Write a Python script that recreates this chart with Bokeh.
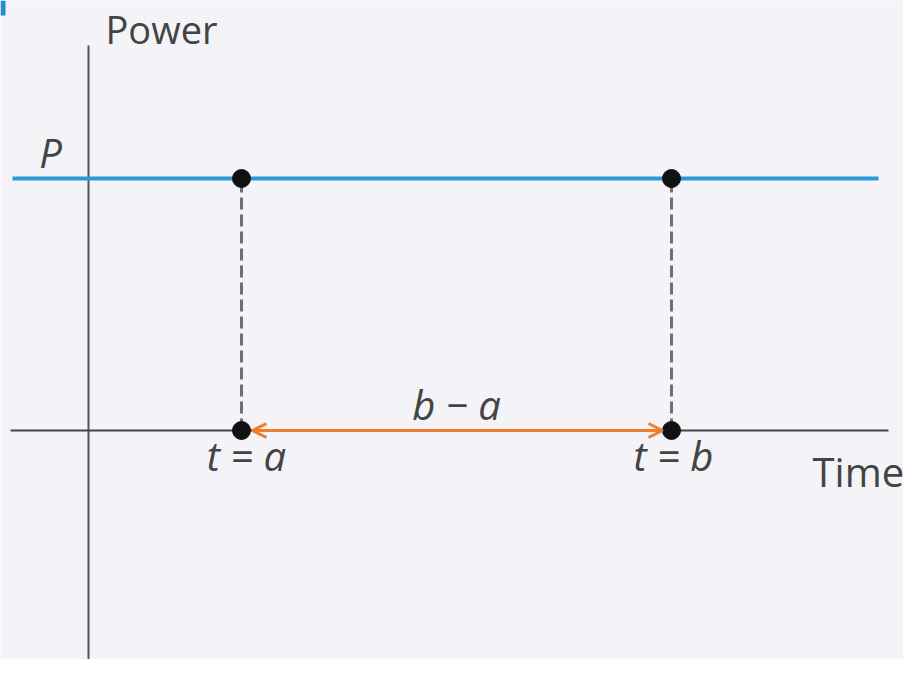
from bokeh.plotting import figure
from bokeh.models import Arrow, OpenHead, Range1d
from bokeh.embed import file_html
from bokeh.resources import INLINE
from bokeh.core.properties import value

# Diagram values (data units)
a = 1.53          # t = a
b = 5.83          # t = b
P = 2.52          # constant power level
time_axis_x = [-0.78, 8.0]
power_axis_y = [-2.40, 3.85]
power_line_x = [-0.76, 7.9]

point_x = [a, a, b, b]
point_y = [P, 0, P, 0]

BG = "#f3f3f8"
TXT = "#444444"
DY = 0.155  # baseline correction

p = figure(width=903, height=659, output_backend="svg", toolbar_location=None,
           x_range=Range1d(-0.88, 8.15), y_range=Range1d(-2.29, 4.30),
           min_border=0)
p.axis.visible = False
p.grid.visible = False
p.outline_line_color = None
p.background_fill_color = BG
p.border_fill_color = BG

# small blue corner mark
p.quad(left=[-0.88], right=[-0.83], bottom=[4.15], top=[4.30],
       fill_color="#1f8fd0", line_color=None)

# axes
p.line([0, 0], power_axis_y, line_color="#555555", line_width=2)
p.line(time_axis_x, [0, 0], line_color="#444444", line_width=2)

# power line
p.line(power_line_x, [P, P], line_color="#2b9bd7", line_width=4)

# dashed verticals
for xv in (a, b):
    p.line([xv, xv], [0, P], line_color="#707070", line_width=3, line_dash="12 5")

# double arrow b - a
p.add_layout(Arrow(x_start=a + 0.11, y_start=0, x_end=b - 0.09, y_end=0,
                   line_color="#ee7d2e", line_width=3,
                   start=OpenHead(size=14, line_color="#ee7d2e", line_width=3),
                   end=OpenHead(size=14, line_color="#ee7d2e", line_width=3)))

# points
p.scatter(point_x, point_y, size=18, fill_color="#111111", line_color="#111111")

font = value("Open Sans")
p.text([0.17], [3.86 + DY], text=["Power"], text_font=font, text_font_size="38px",
       text_color=TXT, text_align="left", text_baseline="alphabetic")
p.text([7.24], [-0.56 + DY], text=["Time"], text_font=font, text_font_size="40px",
       text_color=TXT, text_align="left", text_baseline="alphabetic")
p.text([-0.38], [2.63 + DY], text=["P"], text_font=font, text_font_size="40px",
       text_font_style="italic", text_color=TXT, text_align="center",
       text_baseline="alphabetic")
p.text([a + 0.05, b + 0.02], [-0.40 + DY, -0.40 + DY], text=["t = a", "t = b"],
       text_font=font, text_font_size="40px", text_font_style="italic",
       text_color=TXT, text_align="center", text_baseline="alphabetic")
p.text([(a + b) / 2], [0.11 + DY], text=["b − a"], text_font=font,
       text_font_size="40px", text_font_style="italic", text_color=TXT,
       text_align="center", text_baseline="alphabetic")

open("out.html", "w").write(file_html(p, INLINE))
